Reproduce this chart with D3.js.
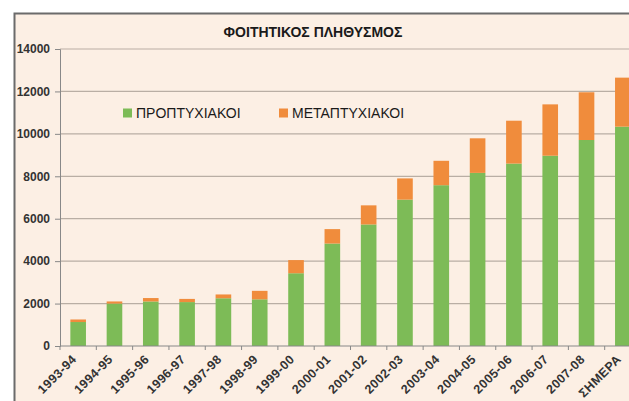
<!DOCTYPE html>
<html>
<head>
<meta charset="utf-8">
<script src="https://cdn.jsdelivr.net/npm/d3@7"></script>
<style>
  body { margin: 0; background: #fff; }
  svg { display: block; }
</style>
</head>
<body>
<div id="chart"></div>
<script>
const years = ["1993-94", "1994-95", "1995-96", "1996-97", "1997-98", "1998-99", "1999-00", "2000-01",
    "2001-02", "2002-03", "2003-04", "2004-05", "2005-06", "2006-07", "2007-08", "ΣΗΜΕΡΑ"];
const undergrad = [1130, 2000, 2100, 2070, 2250, 2200, 3430, 4830, 5730, 6900, 7580, 8160, 8600, 8970, 9710, 10340];
const postgrad = [120, 100, 160, 150, 180, 400, 620, 680, 900, 1000, 1150, 1630, 2020, 2420, 2250, 2310];
const yTicks = [0, 2000, 4000, 6000, 8000, 10000, 12000, 14000];
const seriesNames = ["ΠΡΟΠΤΥΧΙΑΚΟΙ", "ΜΕΤΑΠΤΥΧΙΑΚΟΙ"];

const colors = { green: "#7dbb57", orange: "#f08c3c", bg: "#fcefe4", grid: "#b9aea4", text: "#333" };

const width = 629, height = 401;
const margins = { top: 49, right: -12, bottom: 55, left: 60 };

const data = years.map((y, i) => ({ year: y, under: undergrad[i], post: postgrad[i] }));
const stack = d3.stack().keys(["under", "post"])(data);

const svg = d3.select("#chart").append("svg")
    .attr("width", width)
    .attr("height", height)
    .style("font-family", "Arial, 'Liberation Sans', sans-serif");

// frame
svg.append("rect")
    .attr("x", 14.5).attr("y", 13.5)
    .attr("width", 700).attr("height", 500)
    .attr("fill", colors.bg)
    .attr("stroke", "#6b6b6b")
    .attr("stroke-width", 2);

const x = d3.scaleBand()
    .domain(years)
    .range([margins.left, width - margins.right])
    .paddingInner(0.57)
    .paddingOuter(0.285);
const xb = d3.scaleBand().domain(years).range([margins.left, width - margins.right]);
const y = d3.scaleLinear()
    .domain([0, 14000])
    .range([height - margins.bottom, margins.top]);

// gridlines
svg.append("g")
    .selectAll("line")
    .data(yTicks.filter(d => d > 0))
    .join("line")
    .attr("x1", margins.left).attr("x2", width)
    .attr("y1", d => y(d)).attr("y2", d => y(d))
    .attr("stroke", colors.grid)
    .attr("stroke-width", 1.2);

// title
svg.append("text")
    .attr("x", 313).attr("y", 37)
    .attr("text-anchor", "middle")
    .attr("font-size", 14)
    .attr("font-weight", "bold")
    .attr("fill", "#1a1a1a")
    .text("ΦΟΙΤΗΤΙΚΟΣ ΠΛΗΘΥΣΜΟΣ");

// bars
svg.append("g")
    .selectAll("g")
    .data(stack)
    .join("g")
    .attr("fill", (d, i) => i == 0 ? colors.green : colors.orange)
    .selectAll("rect")
    .data(d => d)
    .join("rect")
    .attr("x", d => x(d.data.year))
    .attr("y", d => y(d[1]))
    .attr("width", x.bandwidth())
    .attr("height", d => y(d[0]) - y(d[1]));

// y axis
const gy = svg.append("g")
    .attr("transform", `translate(${margins.left},0)`)
    .call(d3.axisLeft(y).tickValues(yTicks).tickFormat(d3.format("d")).tickSize(5).tickPadding(5));
gy.select(".domain").attr("stroke", "#888");
gy.selectAll(".tick line").attr("stroke", "#888");
gy.selectAll("text")
    .attr("font-size", 12)
    .attr("font-weight", "bold")
    .attr("fill", colors.text);

// x axis
const gx = svg.append("g")
    .attr("transform", `translate(0,${y(0)})`);
gx.append("line")
    .attr("x1", margins.left).attr("x2", width)
    .attr("stroke", "#888");
gx.selectAll(".tk")
    .data(years)
    .join("line")
    .attr("class", "tk")
    .attr("x1", d => xb(d)).attr("x2", d => xb(d))
    .attr("y1", 0).attr("y2", 4)
    .attr("stroke", "#888");
gx.selectAll("text")
    .data(years)
    .join("text")
    .attr("transform", d => `translate(${xb(d) + xb.bandwidth() / 2 - 4},${11}) rotate(-45)`)
    .attr("text-anchor", "end")
    .attr("dy", "0.35em")
    .attr("font-size", 12.5)
    .attr("font-weight", "bold")
    .attr("letter-spacing", 0.4)
    .attr("fill", colors.text)
    .text(d => d);

// legend
const legend = svg.append("g")
    .selectAll("g")
    .data(seriesNames)
    .join("g")
    .attr("transform", (d, i) => `translate(${i == 0 ? 123 : 279},${113})`);
legend.append("rect")
    .attr("x", 0).attr("y", -4.5)
    .attr("width", 9).attr("height", 9)
    .attr("fill", (d, i) => i == 0 ? colors.green : colors.orange);
legend.append("text")
    .attr("x", 13).attr("y", 0)
    .attr("dy", "0.35em")
    .attr("font-size", 14)
    .attr("fill", "#1a1a1a")
    .text(d => d);
</script>
</body>
</html>
